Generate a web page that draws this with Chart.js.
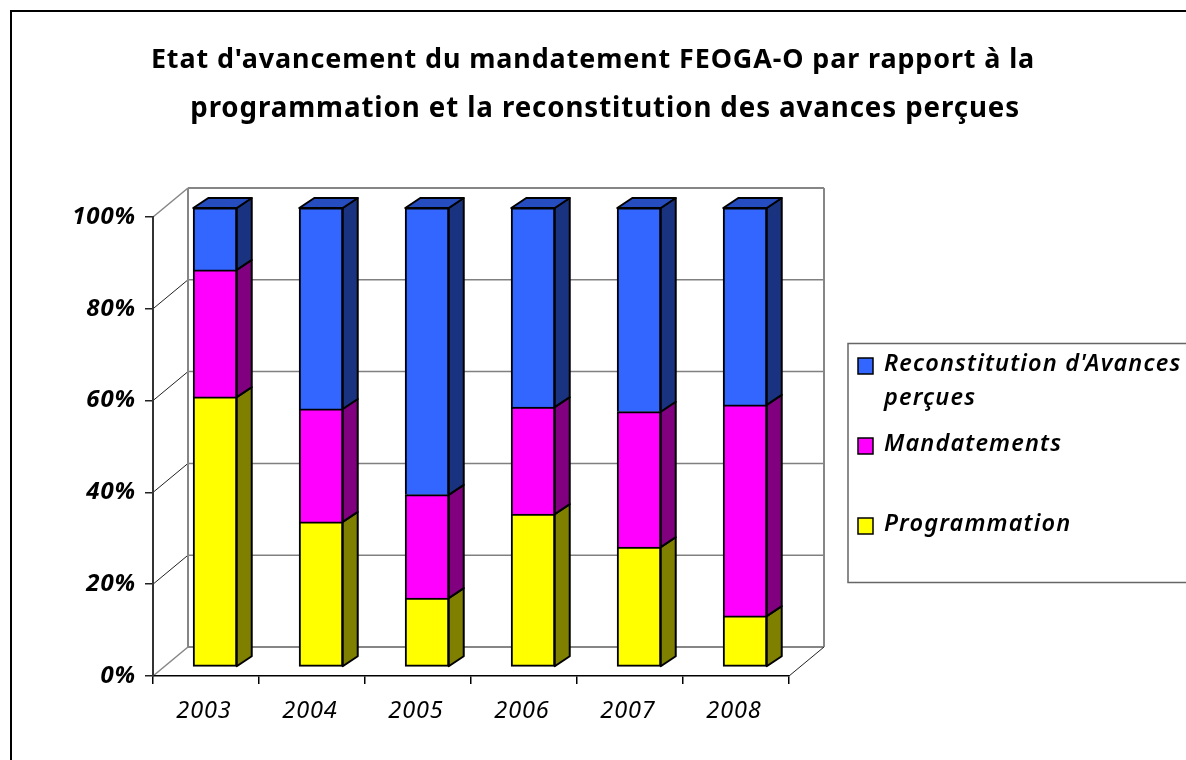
<!DOCTYPE html>
<html>
<head>
<meta charset="utf-8">
<style>html,body{margin:0;padding:0;background:#fff;overflow:hidden}#w{width:1186px;height:760px;position:relative}</style>
<script src="https://cdn.jsdelivr.net/npm/chart.js@4"></script>
</head>
<body>
<div id="w"><canvas id="c" width="1186" height="760"></canvas></div>
<script>
const categories = ['2003','2004','2005','2006','2007','2008'];
const programmation = [58.8,31.6,15.0,33.3,26.1,11.1];
const mandatements = [27.7,24.6,22.5,23.3,29.5,46.0];
const reconstitution = [13.5,43.8,62.5,43.4,44.4,42.9];
const titleLine1 = "Etat d'avancement du mandatement FEOGA-O par rapport à la";
const titleLine2 = "   programmation et la reconstitution des avances perçues";
const legendLines = [["Reconstitution d'Avances","perçues"],["Mandatements"],["Programmation"]];
const FONT = '"Noto Sans"';

const colors = {
  prog:{front:'#FFFF00',side:'#808000'},
  mand:{front:'#FF00FF',side:'#800080'},
  rec:{front:'#3366FF',side:'#1A3380',top:'#264DBF'}
};

const WALL_DX = 35, WALL_DY = 29;
const BAR_DX = 9, BAR_DY = 9;
const SIDE_DX = 15, SIDE_DY = 10;

function poly(ctx, pts, fill){
  ctx.beginPath();
  pts.forEach((p,i)=> i?ctx.lineTo(p[0],p[1]):ctx.moveTo(p[0],p[1]));
  ctx.closePath();
  ctx.fillStyle = fill; ctx.fill();
  ctx.strokeStyle = '#000'; ctx.lineWidth = 2; ctx.lineJoin='round'; ctx.stroke();
}

const scene = {
  id:'scene',
  beforeDraw(chart){
    const ctx = chart.ctx;
    ctx.letterSpacing = '0.9px';
    ctx.save();
    ctx.fillStyle='#fff'; ctx.fillRect(0,0,chart.width,chart.height);
    ctx.strokeStyle='#000'; ctx.lineWidth=2;
    ctx.strokeRect(11,11,1300,900);
    ctx.strokeStyle='#666'; ctx.lineWidth=1.5;
    ctx.strokeRect(848,343.5,500,239);
    const markers=[colors.rec.front,colors.mand.front,colors.prog.front];
    const my=[366,446,526];
    const ty=[[364,398],[444],[524]];
    ctx.letterSpacing = '1.15px';
    legendLines.forEach((lines,i)=>{
      ctx.fillStyle=markers[i]; ctx.strokeStyle='#000'; ctx.lineWidth=1.5;
      ctx.fillRect(858,my[i]-8,15,16); ctx.strokeRect(858,my[i]-8,15,16);
      ctx.fillStyle='#000'; ctx.font='italic 600 23.5px '+FONT;
      ctx.textBaseline='middle'; ctx.textAlign='left';
      lines.forEach((t,j)=>ctx.fillText(t,884,ty[i][j]));
    });
    ctx.letterSpacing = '0.9px';
    const x=chart.scales.x, y=chart.scales.y;
    const L=x.left, R=x.right;
    [0,20,40,60,80,100].forEach(v=>{
      const py=y.getPixelForValue(v);
      const edge=(v===0||v===100);
      ctx.beginPath();ctx.strokeStyle=edge?'#868686':'#808080';ctx.lineWidth=edge?2:1.5;
      ctx.moveTo(L+WALL_DX,py-WALL_DY);ctx.lineTo(R+WALL_DX,py-WALL_DY);ctx.stroke();
      ctx.beginPath();ctx.strokeStyle=edge?'#868686':'#222';ctx.lineWidth=edge?1.5:1;
      ctx.moveTo(L,py);ctx.lineTo(L+WALL_DX,py-WALL_DY);ctx.stroke();
    });
    const p0=y.getPixelForValue(0), p100=y.getPixelForValue(100);
    ctx.beginPath();ctx.strokeStyle='#868686';ctx.lineWidth=2;
    ctx.moveTo(L+WALL_DX,p0-WALL_DY);ctx.lineTo(L+WALL_DX,p100-WALL_DY);
    ctx.moveTo(R+WALL_DX,p0-WALL_DY);ctx.lineTo(R+WALL_DX,p100-WALL_DY);ctx.stroke();
    ctx.beginPath();ctx.strokeStyle='#222';ctx.lineWidth=1;
    ctx.moveTo(R,p0);ctx.lineTo(R+WALL_DX,p0-WALL_DY);ctx.stroke();
    ctx.restore();
  },
  beforeDatasetsDraw(chart){
    const ctx=chart.ctx;
    ctx.save();
    ctx.translate(BAR_DX,-BAR_DY);
    chart.data.datasets.forEach((ds,di)=>{
      chart.getDatasetMeta(di).data.forEach(el=>{
        const r=el.x+el.width/2, l=el.x-el.width/2;
        poly(ctx,[[r,el.y],[r+SIDE_DX,el.y-SIDE_DY],[r+SIDE_DX,el.base-SIDE_DY],[r,el.base]],ds.sideColor);
        if(ds.topColor) poly(ctx,[[l,el.y],[l+SIDE_DX,el.y-SIDE_DY],[r+SIDE_DX,el.y-SIDE_DY],[r,el.y]],ds.topColor);
      });
    });
  },
  afterDatasetsDraw(chart){ chart.ctx.restore(); }
};

new Chart(document.getElementById('c'),{
  type:'bar',
  data:{labels:categories,datasets:[
    {label:'Programmation',data:programmation,backgroundColor:colors.prog.front,sideColor:colors.prog.side,borderWidth:{top:2,left:2,right:2,bottom:2}},
    {label:'Mandatements',data:mandatements,backgroundColor:colors.mand.front,sideColor:colors.mand.side,borderWidth:{top:2,left:2,right:2,bottom:0}},
    {label:"Reconstitution d'Avances perçues",data:reconstitution,backgroundColor:colors.rec.front,sideColor:colors.rec.side,topColor:colors.rec.top,borderWidth:{top:2,left:2,right:2,bottom:0}}
  ].map(d=>Object.assign(d,{borderColor:'#000',borderSkipped:false,inflateAmount:0.5,clip:false,categoryPercentage:1,barPercentage:0.41}))},
  options:{
    responsive:false,animation:false,devicePixelRatio:1,
    layout:{padding:0},
    plugins:{
      legend:{display:false},tooltip:{enabled:false},
      title:{display:true,text:titleLine1,color:'#000',align:'center',
        font:{family:FONT,size:26.9,weight:'bold',lineHeight:1.82},
        padding:{top:36,bottom:0}},
      subtitle:{display:true,text:titleLine2,color:'#000',align:'center',
        font:{family:FONT,size:27.7,weight:'bold',lineHeight:1.77},
        padding:{top:0,bottom:83}}
    },
    scales:{
      x:{stacked:true,
        grid:{drawOnChartArea:false,drawTicks:true,tickLength:8,color:'#000',lineWidth:1.5},
        border:{color:'#000',width:1.5},
        ticks:{color:'#000',font:{family:FONT,size:23.5,style:'italic'},padding:13,maxRotation:0,labelOffset:-2},
        afterFit(s){s.height=84;}},
      y:{stacked:true,min:0,max:100,
        grid:{drawOnChartArea:false,tickLength:8,color:'#222',lineWidth:1.5},
        border:{color:'#333',width:2},
        ticks:{stepSize:20,color:'#000',font:{family:FONT,size:24,style:'italic',weight:'bold'},padding:9,
          callback:v=>v+'%'},
        afterFit(s){s.width=153;}},
      spacer:{position:'right',display:true,grid:{display:false},border:{display:false},ticks:{display:false},
        afterFit(s){s.width=397;}}
    }
  },
  plugins:[scene]
});
</script>
</body>
</html>
